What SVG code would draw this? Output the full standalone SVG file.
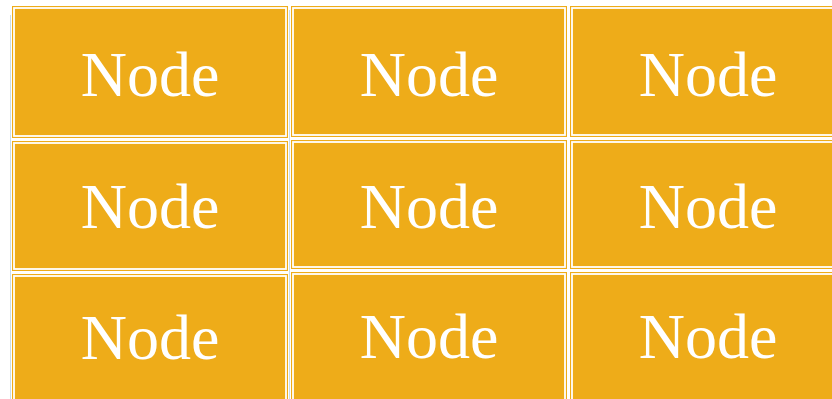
<svg xmlns="http://www.w3.org/2000/svg" width="832" height="399" viewBox="0 0 832 399">
<style>
.o{fill:#EEAC19}
.i{fill:#EEAC19;stroke:#FFFFFF;stroke-width:1.8}
.t{font-family:"Liberation Serif","Times New Roman",serif;font-size:64px;fill:#FFFFFF;text-anchor:middle}
.g{stroke:#C8DDEF;stroke-width:1;fill:none}
</style>
<rect width="832" height="399" fill="#FFFFFF"/>
<line class="g" x1="10.5" y1="15" x2="10.5" y2="399"/>
<line class="g" x1="289.5" y1="10" x2="289.5" y2="399"/>
<g id="n11"><rect class="o" x="12" y="6" width="276" height="132"/><rect class="i" x="14" y="8" width="272" height="128"/><text class="t" x="150" y="96">Node</text></g>
<g id="n12"><rect class="o" x="291" y="6" width="276" height="131"/><rect class="i" x="293" y="8" width="272" height="127"/><text class="t" x="429" y="96">Node</text></g>
<g id="n13"><rect class="o" x="570" y="6" width="276" height="131"/><rect class="i" x="572" y="8" width="272" height="127"/><text class="t" x="708" y="96">Node</text></g>
<g id="n21"><rect class="o" x="12" y="141" width="276" height="130"/><rect class="i" x="14" y="143" width="272" height="126"/><text class="t" x="150" y="228">Node</text></g>
<g id="n22"><rect class="o" x="291" y="140" width="276" height="129"/><rect class="i" x="293" y="142" width="272" height="125"/><text class="t" x="429" y="228">Node</text></g>
<g id="n23"><rect class="o" x="570" y="140" width="276" height="129"/><rect class="i" x="572" y="142" width="272" height="125"/><text class="t" x="708" y="228">Node</text></g>
<g id="n31"><rect class="o" x="12" y="274" width="276" height="140"/><rect class="i" x="14" y="276" width="272" height="136"/><text class="t" x="150" y="359">Node</text></g>
<g id="n32"><rect class="o" x="291" y="272" width="276" height="140"/><rect class="i" x="293" y="274" width="272" height="136"/><text class="t" x="429" y="358">Node</text></g>
<g id="n33"><rect class="o" x="570" y="272" width="276" height="140"/><rect class="i" x="572" y="274" width="272" height="136"/><text class="t" x="708" y="358">Node</text></g>
<g id="connectors"></g>
</svg>
